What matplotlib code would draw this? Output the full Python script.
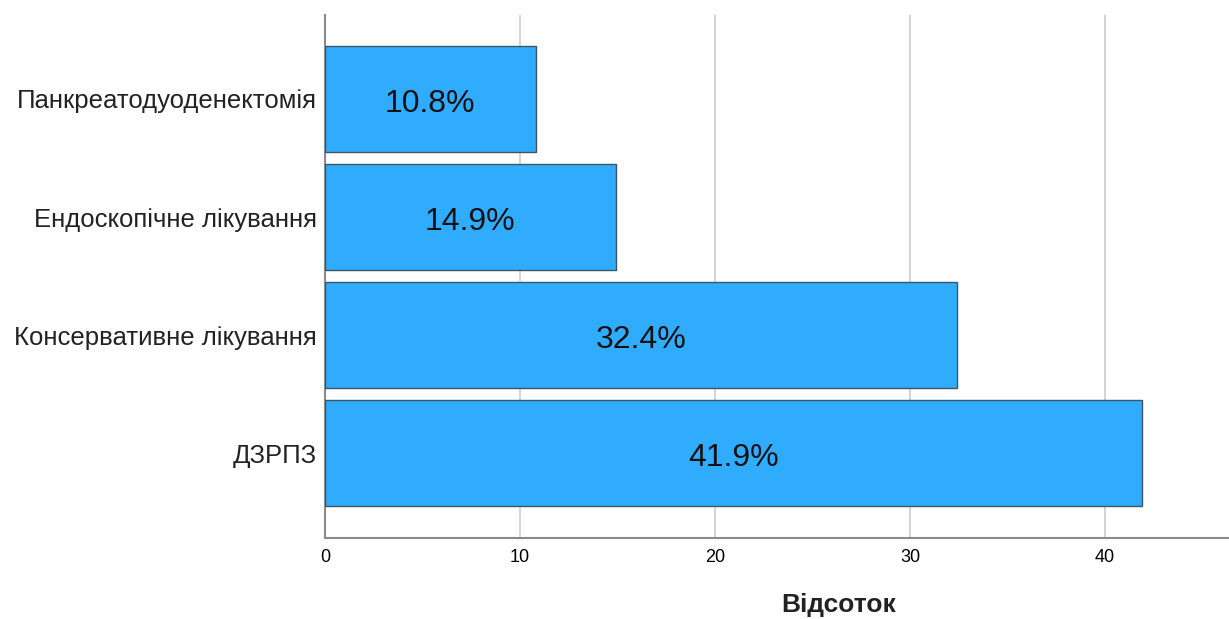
import matplotlib
matplotlib.use("Agg")
import matplotlib.pyplot as plt

categories = ["ДЗРПЗ", "Консервативне лікування", "Ендоскопічне лікування", "Панкреатодуоденектомія"]
percent = [41.9, 32.4, 14.9, 10.8]
x_ticks = [0, 10, 20, 30, 40]

plt.rcParams["font.family"] = ["Liberation Sans", "DejaVu Sans"]

fig = plt.figure(figsize=(12.29, 6.19), dpi=100)
ax = fig.add_axes([0.2644, 0.1309, 0.7356, 0.8449])

pos = list(range(len(categories)))
ax.barh(pos, percent, height=0.9, color="#30ACFF", edgecolor="#3d5566", linewidth=1.0, zorder=3)
for p, v in zip(pos, percent):
    ax.text(v / 2, p - 0.04, f"{v}%", ha="center", va="center", fontsize=23, color="#111111", zorder=4)

ax.set_xlim(0, 46.36)
ax.set_ylim(-0.72, 3.712)
ax.set_xticks(x_ticks)
ax.set_xticklabels([str(t) for t in x_ticks], fontsize=13)
ax.set_yticks(pos)
ax.set_yticklabels(categories, fontsize=18.5, color="#222222")
ax.tick_params(axis="both", length=0)
ax.tick_params(axis="y", pad=6)
ax.tick_params(axis="x", pad=8)
ax.xaxis.grid(True, color="#cccccc", linewidth=1.2, zorder=0)
ax.set_axisbelow(True)

for s in ["top", "right"]:
    ax.spines[s].set_visible(False)
for s in ["left", "bottom"]:
    ax.spines[s].set_color("#8a8a8a")
    ax.spines[s].set_linewidth(1.5)

fig.text(0.682, 0.012, "Відсоток", ha="center", va="baseline", fontsize=19, fontweight="bold", color="#222222")

fig.savefig("out.png", dpi=100)
